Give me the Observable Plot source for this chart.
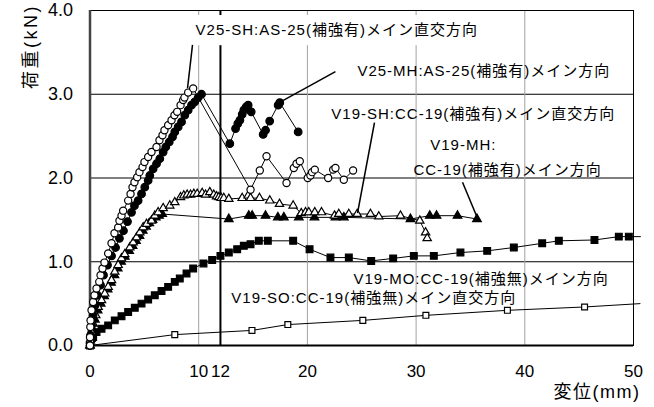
<!DOCTYPE html>
<html>
<head>
<meta charset="utf-8">
<script src="https://cdn.jsdelivr.net/npm/d3@7"></script>
<script src="https://cdn.jsdelivr.net/npm/@observablehq/plot@0.6"></script>
<style>
  html, body { margin: 0; padding: 0; background: #fff; }
</style>
</head>
<body>
<div id="chart"></div>
<script>
// Load–displacement curves, displacement (mm) vs load (kN)

// V25-SH:AS-25 (reinforced), orthogonal direction — open circles
const V25_SH = [[0,0],[0,0.1],[0.03,0.22],[0.05,0.3],[0.14,0.42],[0.29,0.52],[0.41,0.6],[0.6,0.68],[0.85,0.76],[0.97,0.84],[1.15,0.92],[1.33,0.99],[1.67,1.1],[1.98,1.22],[2.25,1.34],[2.59,1.41],[2.71,1.49],[2.9,1.55],[3.05,1.61],[3.51,1.73],[3.73,1.81],[3.91,1.89],[4.09,1.95],[4.34,2.01],[4.55,2.07],[4.83,2.13],[5.01,2.19],[5.35,2.25],[5.66,2.31],[6.12,2.37],[6.39,2.45],[6.67,2.51],[6.85,2.57],[7.19,2.63],[7.5,2.69],[7.77,2.75],[8.02,2.79],[8.33,2.87],[8.57,2.93],[8.69,2.96],[9.03,3.02],[9.49,3.07],[14.77,1.86],[15.62,2.09],[16.24,2.26],[18.08,1.94],[18.75,2.12],[19.0,2.17],[19.3,2.2],[20.03,2.0],[20.28,2.03],[20.43,2.07],[20.68,2.1],[21.91,2.0],[22.37,2.1],[22.58,2.12],[23.35,1.98],[24.2,2.09]];

// V25-MH:AS-25 (reinforced), main direction — filled circles
const V25_MH = [[0,0],[0.05,0.12],[0.14,0.24],[0.28,0.36],[0.46,0.48],[0.69,0.6],[0.97,0.72],[1.24,0.84],[1.61,0.96],[1.98,1.07],[2.35,1.17],[2.71,1.28],[3.08,1.37],[3.45,1.48],[3.82,1.59],[4.09,1.67],[4.43,1.73],[4.74,1.81],[5.04,1.89],[5.35,1.97],[5.5,2.03],[5.81,2.11],[6.12,2.17],[6.42,2.23],[6.73,2.31],[6.97,2.37],[7.29,2.43],[7.59,2.49],[7.8,2.55],[8.11,2.61],[8.42,2.67],[8.72,2.75],[9.03,2.81],[9.34,2.87],[9.64,2.91],[9.95,2.96],[10.26,3.0],[12.86,2.41],[13.39,2.59],[13.6,2.65],[13.79,2.69],[14.0,2.76],[14.15,2.81],[14.37,2.85],[14.55,2.87],[14.83,2.79],[15.93,2.52],[16.15,2.57],[16.53,2.68],[17.31,2.87],[17.46,2.9],[19.15,2.55]];

// V19-SH:CC-19 (reinforced), orthogonal direction — open triangles
const V19_SH = [[0,0],[0.03,0.06],[0.14,0.16],[0.29,0.26],[0.53,0.36],[0.75,0.46],[1.06,0.54],[1.36,0.62],[1.67,0.7],[1.98,0.78],[2.28,0.88],[2.59,0.96],[2.9,1.04],[3.2,1.09],[3.66,1.17],[3.97,1.23],[4.28,1.29],[4.58,1.35],[4.89,1.41],[5.2,1.45],[5.66,1.49],[5.96,1.55],[6.27,1.59],[6.73,1.64],[7.34,1.67],[7.8,1.71],[8.33,1.77],[8.63,1.79],[8.94,1.8],[9.25,1.8],[9.55,1.81],[9.86,1.81],[10.32,1.82],[10.63,1.8],[11.02,1.83],[11.39,1.8],[11.64,1.78],[11.85,1.77],[12.07,1.76],[12.31,1.76],[12.77,1.75],[14.0,1.76],[14.55,1.79],[14.77,1.76],[15.59,1.76],[16.54,1.73],[17.43,1.69],[18.69,1.67],[19.43,1.58],[19.83,1.59],[20.13,1.59],[20.68,1.59],[21.3,1.59],[22.49,1.55],[22.89,1.57],[23.81,1.57],[24.58,1.57],[25.8,1.57],[26.57,1.54],[28.56,1.55],[30.34,1.49],[30.87,1.35],[31.02,1.28]];

// V19-MH:CC-19 (reinforced), main direction — filled triangles
const V19_MH = [[0,0],[0.08,0.08],[0.22,0.2],[0.45,0.31],[0.7,0.42],[0.98,0.5],[1.3,0.59],[1.62,0.67],[1.93,0.75],[2.25,0.84],[2.55,0.92],[2.86,1.0],[3.2,1.06],[3.6,1.13],[3.92,1.19],[4.23,1.25],[4.55,1.31],[4.85,1.37],[5.15,1.42],[5.45,1.46],[5.75,1.5],[6.05,1.53],[6.35,1.55],[6.64,1.57],[12.77,1.51],[14.61,1.55],[14.92,1.55],[16.15,1.55],[17.28,1.53],[17.83,1.53],[19.21,1.53],[20.65,1.53],[22.59,1.53],[23.35,1.53],[29.48,1.51],[31.26,1.55],[31.88,1.55],[33.81,1.55],[35.6,1.51]];

// V19-MO:CC-19 (unreinforced), main direction — filled squares
const V19_MO = [[0,0],[0.05,0.04],[0.29,0.1],[0.6,0.16],[1.06,0.2],[1.67,0.24],[2.28,0.3],[2.9,0.35],[3.51,0.4],[4.12,0.45],[4.74,0.5],[5.35,0.55],[5.96,0.6],[6.58,0.65],[7.19,0.7],[7.8,0.76],[8.26,0.8],[8.88,0.86],[9.49,0.92],[10.44,0.98],[11.24,1.02],[12.0,1.07],[12.77,1.11],[13.54,1.15],[14.15,1.19],[14.77,1.21],[15.53,1.25],[16.36,1.25],[18.69,1.25],[20.2,1.15],[22.12,1.05],[23.81,1.05],[25.87,1.01],[27.89,1.04],[29.79,1.07],[31.63,1.07],[34.08,1.11],[36.54,1.13],[38.99,1.17],[41.6,1.22],[43.13,1.25],[46.41,1.26],[48.65,1.3],[49.57,1.3],[50.64,1.3]];

// V19-SO:CC-19 (unreinforced), orthogonal direction — open squares
const V19_SO = [[0,0],[7.8,0.13],[14.9,0.18],[18.2,0.25],[25.1,0.3],[30.9,0.36],[38.4,0.42],[45.5,0.46],[50.6,0.5]];

const xTicks = [0, 10, 12, 20, 30, 40, 50];
const yTicks = [0, 1, 2, 3, 4];
const xGrid = [10, 20, 30, 40];
const yGrid = [1, 2, 3];
const limitLine = [12];

// Drawing order: filled triangles under the open ones
const seriesStyles = [
  {data: V19_SO, symbol: "square", fill: "white", r: 3.3},
  {data: V19_MO, symbol: "square", fill: "black", r: 3.8},
  {data: V19_MH, symbol: "triangle", fill: "black", r: 3.2},
  {data: V19_SH, symbol: "triangle", fill: "white", r: 3.1},
  {data: V25_MH, symbol: "circle", fill: "black", r: 3.8},
  {data: V25_SH, symbol: "circle", fill: "white", r: 3.6}
];

// Callout labels (anchored at their left end)
const notes = [
  {text: "V25-SH:AS-25(補強有)メイン直交方向", x: 9.71, y: 3.77},
  {text: "V25-MH:AS-25(補強有)メイン方向", x: 24.6, y: 3.27},
  {text: "V19-SH:CC-19(補強有)メイン直交方向", x: 22.2, y: 2.76},
  {text: "V19-MH:", x: 31.3, y: 2.39},
  {text: "CC-19(補強有)メイン方向", x: 29.75, y: 2.09},
  {text: "V19-MO:CC-19(補強無)メイン方向", x: 24.24, y: 0.79},
  {text: "V19-SO:CC-19(補強無)メイン直交方向", x: 13.0, y: 0.57}
];

// Leader lines from callouts to their curves
const leaders = [
  {x1: 9.43, y1: 3.59, x2: 8.97, y2: 3.07},
  {x1: 22.58, y1: 3.27, x2: 17.53, y2: 2.91},
  {x1: 26.17, y1: 2.66, x2: 24.61, y2: 1.58},
  {x1: 34.27, y1: 1.95, x2: 35.65, y2: 1.52}
];

// White box behind the top callout
const calloutBox = [{x1: 9.0, x2: 37.0, y1: 3.58, y2: 3.94}];

const yTitle = "荷重(kN)";
const xTitle = "変位(mm)";

const FONT = '"Liberation Sans", Arial, "Noto Sans CJK JP", sans-serif';

const seriesMarks = seriesStyles.flatMap(s => {
  const pts = s.data.map(([x, y]) => ({x, y}));
  return [
    Plot.line(pts, {x: "x", y: "y", stroke: "black", strokeWidth: 1}),
    Plot.dot(pts.filter(d => d.x <= 50), {
      x: "x", y: "y", symbol: s.symbol, r: s.r,
      fill: s.fill, stroke: "black", strokeWidth: 1.2
    })
  ];
});

const chart = Plot.plot({
  width: 654,
  height: 407,
  marginTop: 10,
  marginBottom: 62,
  marginLeft: 89.5,
  marginRight: 21,
  style: {fontFamily: FONT, fontSize: "18px", background: "#fff", color: "#000"},
  x: {domain: [0, 50], label: null},
  y: {domain: [0, 4], label: null},
  marks: [
    Plot.ruleY(yGrid, {stroke: "black", strokeWidth: 1}),
    Plot.ruleX(xGrid, {stroke: "#a0a0a0", strokeWidth: 1}),
    Plot.ruleX(limitLine, {stroke: "black", strokeWidth: 2}),
    Plot.rect(calloutBox, {x1: "x1", x2: "x2", y1: "y1", y2: "y2", fill: "white"}),
    Plot.frame({stroke: "black", strokeWidth: 1}),
    Plot.ruleX([0], {stroke: "#444", strokeWidth: 2.5}),
    Plot.ruleY([0], {stroke: "black", strokeWidth: 2}),
    Plot.axisX(xTicks, {tickSize: 0, tickPadding: 19, fontSize: 17, label: null}),
    Plot.axisY(yTicks, {tickSize: 0, tickPadding: 17, fontSize: 18, label: null,
      tickFormat: d => d.toFixed(1)}),
    ...seriesMarks,
    Plot.link(leaders, {x1: "x1", y1: "y1", x2: "x2", y2: "y2", stroke: "black", strokeWidth: 1.5}),
    Plot.text(notes, {x: "x", y: "y", text: "text", textAnchor: "start",
      fontSize: 15, fill: "black"}),
    Plot.text([yTitle], {frameAnchor: "top-left", dx: -65.5, dy: 36, rotate: -90,
      fontSize: 18, textAnchor: "middle"}),
    Plot.text([xTitle], {frameAnchor: "bottom-right", dx: 7, dy: 52,
      fontSize: 18, textAnchor: "end"})
  ]
});

document.getElementById("chart").appendChild(chart);

// Letter spacing for the callouts and axis titles
const noteTexts = new Set(notes.map(d => d.text));
d3.select(chart).selectAll("text").each(function() {
  const t = this.textContent;
  if (noteTexts.has(t)) this.setAttribute("letter-spacing", "1");
  else if (t === yTitle) this.setAttribute("letter-spacing", "2.5");
  else if (t === xTitle) this.setAttribute("letter-spacing", "1.5");
});
</script>
</body>
</html>
